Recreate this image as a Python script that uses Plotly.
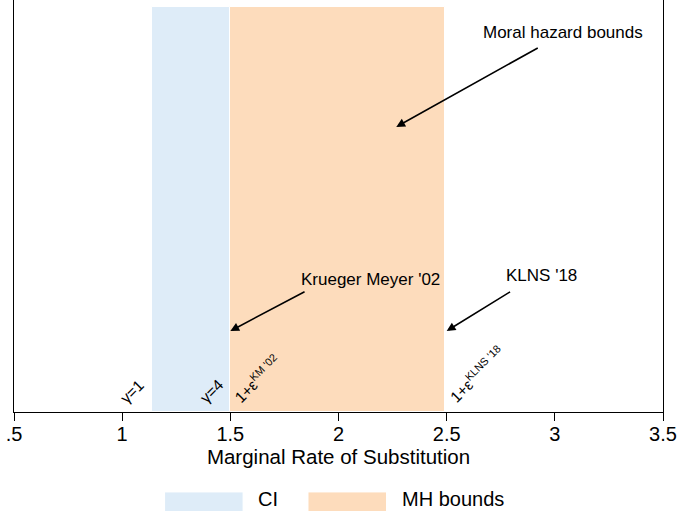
import plotly.graph_objects as go

# ---- data ----
band_names = ["CI", "MH bounds"]
band_lo = [1.14, 1.50]
band_hi = [1.50, 2.49]
band_colors = ["#DEECF8", "#FDDCBC"]

tick_vals = [0.5, 1, 1.5, 2, 2.5, 3, 3.5]
tick_text = [".5", "1", "1.5", "2", "2.5", "3", "3.5"]

# callouts: (text, head_x, head_y, tail_x, tail_y, label_x, label_y)
callout_text = ["Moral hazard bounds", "Krueger Meyer '02", "KLNS '18"]
callout_head_x = [2.267, 1.50, 2.50]
callout_head_y = [0.704, 0.200, 0.200]
callout_tail_x = [2.928, 1.85, 2.80]
callout_tail_y = [0.901, 0.299, 0.299]
callout_label_x = [3.04, 2.15, 2.94]
callout_label_y = [0.938, 0.328, 0.338]

FONT = "Arial, Liberation Sans, Helvetica, sans-serif"

fig = go.Figure()
for name, lo, hi, col in zip(band_names, band_lo, band_hi, band_colors):
    fig.add_trace(go.Bar(
        x=[(lo + hi) / 2], y=[1], width=[hi - lo], name=name,
        marker=dict(color=col, line=dict(color="white", width=1)),
        showlegend=False, hoverinfo="skip",
    ))

# callouts
for t, hx, hy, tx, ty, lx, ly in zip(callout_text, callout_head_x, callout_head_y,
                                     callout_tail_x, callout_tail_y,
                                     callout_label_x, callout_label_y):
    fig.add_annotation(x=hx, y=hy, ax=tx, ay=ty, axref="x", ayref="y",
                       xref="x", yref="y", text="", showarrow=True,
                       arrowhead=2, arrowsize=1.1, arrowwidth=1.6,
                       arrowcolor="black", standoff=0, startstandoff=0)
    fig.add_annotation(x=lx, y=ly, xref="x", yref="y", text=t, showarrow=False,
                       font=dict(size=17, color="black", family=FONT))

# rotated bound labels
rot_labels = [
    ("\u03b3=1", band_lo[0], "right", -3),
    ("\u03b3=4", band_hi[0], "right", 0),
    ("1+\u03b5<sup>KM '02</sup>", band_lo[1], "left", -4),
    ("1+\u03b5<sup>KLNS '18</sup>", band_hi[1], "left", -2),
]
for txt, xv, anc, xs in rot_labels:
    fig.add_annotation(x=xv, y=0, xref="x", yref="y", text=txt, showarrow=False,
                       textangle=-45, xanchor=anc, yanchor="bottom",
                       xshift=xs, yshift=3,
                       font=dict(size=15.5, color="black", family=FONT))

# custom legend
leg_x0 = [0.232, 0.453]
for name, col, x0 in zip(band_names, band_colors, leg_x0):
    fig.add_shape(type="rect", xref="paper", yref="paper",
                  x0=x0, x1=x0 + 0.121, y0=-0.245, y1=-0.194,
                  fillcolor=col, line=dict(color="white", width=1))
    fig.add_annotation(x=x0 + 0.141, y=-0.212, xref="paper", yref="paper",
                       text=name, showarrow=False, xanchor="left", yanchor="middle",
                       font=dict(size=20, color="black", family=FONT))

fig.update_layout(
    width=679, height=511,
    margin=dict(l=14, r=16, t=0, b=99, autoexpand=False),
    plot_bgcolor="white", paper_bgcolor="white",
    font=dict(family=FONT, color="black"),
    showlegend=False,
    bargap=0,
    xaxis=dict(range=[0.5, 3.5], tickvals=tick_vals, ticktext=tick_text,
               showline=True, linecolor="black", linewidth=1,
               ticks="outside", ticklen=8, tickcolor="black", tickwidth=1,
               ticklabelstandoff=-4,
               showgrid=False, zeroline=False, automargin=False,
               tickfont=dict(size=20, family=FONT, color="black"),
               title=dict(text="Marginal Rate of Substitution", standoff=1,
                          font=dict(size=20.5, family=FONT, color="black"))),
    yaxis=dict(range=[0, 1.0173], showline=True, mirror=True, linecolor="black",
               linewidth=1, showgrid=False, zeroline=False, automargin=False,
               showticklabels=False, ticks=""),
)

fig.write_html("out.html", config={"displayModeBar": False},
               post_script="document.body.style.margin='0';document.body.style.overflow='hidden';")
